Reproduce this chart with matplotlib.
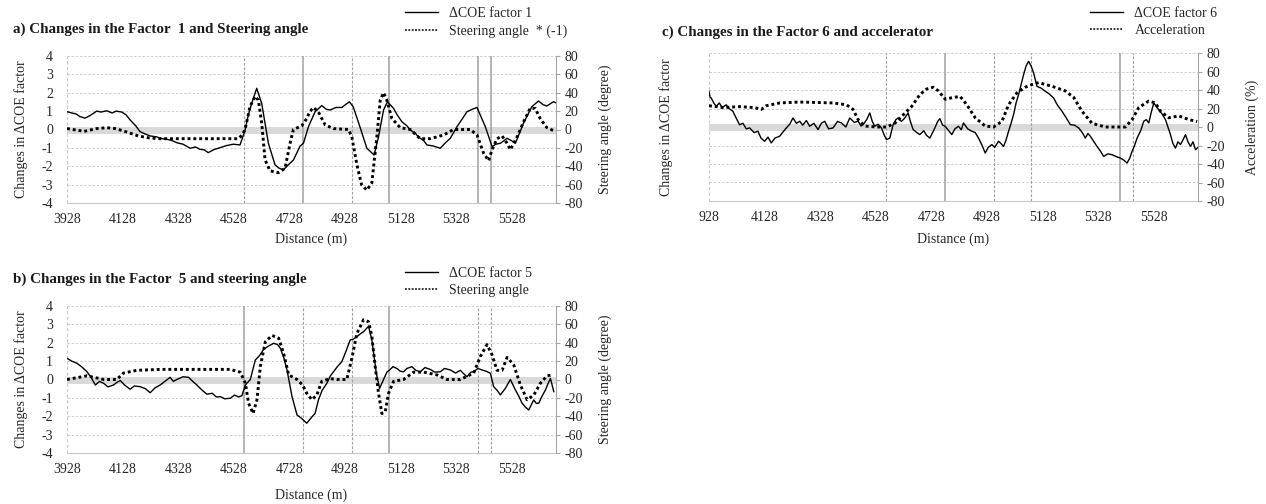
import matplotlib
matplotlib.use("Agg")
import matplotlib.pyplot as plt
import numpy as np

plt.rcParams['font.family'] = ['Liberation Serif', 'DejaVu Serif']
plt.rcParams['axes.unicode_minus'] = False

# ---- data: [distance (m), value] ----
# a) factor 1 (left axis) and steering angle * (-1) (right axis, degree)
a_factor = [[3928, 0.97], [3945, 0.9], [3960, 0.85], [3975, 0.7], [3993, 0.62], [4010, 0.75],
            [4035, 1.0], [4050, 0.95], [4071, 1.02], [4090, 0.9], [4105, 1.0], [4125, 0.95],
            [4140, 0.8], [4155, 0.52], [4175, 0.2], [4191, -0.12], [4210, -0.25], [4227, -0.35],
            [4250, -0.4], [4270, -0.5], [4287, -0.53], [4305, -0.6], [4323, -0.72], [4345, -0.8],
            [4371, -1.02], [4390, -0.95], [4406, -1.08], [4420, -1.1], [4436, -1.26], [4455, -1.1],
            [4478, -0.99], [4500, -0.88], [4526, -0.8], [4550, -0.84], [4568, -0.05], [4580, 0.8],
            [4592, 1.42], [4610, 2.24], [4628, 1.42], [4652, -0.75], [4676, -1.93], [4690, -2.1],
            [4706, -2.2], [4725, -1.9], [4742, -1.66], [4766, -0.9], [4778, -0.75], [4796, 0.15],
            [4820, 0.97], [4844, 1.3], [4860, 1.1], [4874, 1.06], [4895, 1.2], [4916, 1.2],
            [4943, 1.51], [4957, 1.24], [4981, 0.15], [5006, -1.02], [5032, -1.39], [5048, -0.39],
            [5066, 1.06], [5080, 1.51], [5102, 1.15], [5115, 0.8], [5132, 0.42], [5150, 0.2],
            [5162, -0.03], [5180, -0.2], [5192, -0.42], [5210, -0.6], [5222, -0.84], [5245, -0.9],
            [5270, -1.02], [5290, -0.7], [5306, -0.48], [5330, 0.15], [5350, 0.6], [5366, 0.97],
            [5385, 1.1], [5402, 1.2], [5432, 0.15], [5456, -0.93], [5470, -0.8], [5486, -0.75],
            [5510, -0.48], [5525, -0.6], [5540, -0.75], [5569, 0.34], [5599, 1.24], [5623, 1.55],
            [5640, 1.35], [5653, 1.28], [5677, 1.51], [5686, 1.45]]
a_steer = [[3928, 1], [3990, -2], [4035, 1], [4071, 2], [4100, 1], [4125, -1], [4155, -4],
           [4184, -7], [4220, -9], [4256, -10], [4387, -10], [4543, -10], [4558, -6], [4568, 0],
           [4586, 25], [4604, 36], [4616, 32], [4628, 7], [4640, -33], [4658, -45], [4688, -47],
           [4712, -42], [4730, -15], [4742, 0], [4772, 4], [4790, 12], [4800, 19], [4814, 24],
           [4832, 19], [4856, 5], [4886, 1], [4940, 0], [4952, -8], [4970, -38], [4987, -60],
           [5006, -66], [5024, -58], [5042, -8], [5054, 32], [5066, 40], [5078, 32], [5096, 12],
           [5126, 2], [5162, 0], [5198, -10], [5234, -10], [5282, -6], [5318, 0], [5378, 0],
           [5402, -6], [5426, -26], [5444, -34], [5456, -22], [5474, -10], [5492, -7], [5510, -15],
           [5522, -22], [5546, -8], [5569, 8], [5593, 23], [5611, 23], [5629, 12], [5653, 2],
           [5683, -2]]

# b) factor 5 and steering angle
b_factor = [[3928, 1.15], [3945, 1.0], [3964, 0.88], [3980, 0.7], [4000, 0.42], [4015, 0.1],
            [4030, -0.3], [4045, -0.1], [4060, -0.21], [4075, -0.4], [4095, -0.3], [4108, -0.15],
            [4120, -0.06], [4135, -0.3], [4155, -0.53], [4170, -0.35], [4191, -0.39], [4210, -0.5],
            [4227, -0.72], [4245, -0.45], [4263, -0.3], [4280, -0.1], [4299, 0.12], [4310, -0.1],
            [4323, 0.0], [4345, 0.15], [4365, 0.12], [4380, -0.1], [4395, -0.3], [4415, -0.6],
            [4431, -0.8], [4450, -0.75], [4465, -0.95], [4479, -0.93], [4495, -1.05], [4515, -1.02],
            [4530, -0.85], [4545, -0.95], [4557, -0.88], [4569, -0.3], [4587, 0.0], [4605, 1.06],
            [4620, 1.3], [4635, 1.64], [4650, 1.8], [4671, 1.97], [4685, 1.9], [4695, 1.7],
            [4707, 1.2], [4719, 0.52], [4737, -0.93], [4755, -1.93], [4770, -2.1], [4790, -2.38],
            [4805, -2.1], [4820, -1.84], [4832, -1.11], [4845, -0.6], [4862, -0.21], [4875, 0.2],
            [4886, 0.42], [4900, 0.7], [4916, 0.97], [4930, 1.5], [4946, 2.15], [4958, 2.2],
            [4970, 2.33], [4984, 2.5], [4994, 2.6], [5012, 2.9], [5024, 2.15], [5040, 0.34],
            [5052, -0.48], [5066, 0.0], [5078, 0.4], [5088, 0.52], [5100, 0.7], [5114, 0.6],
            [5126, 0.45], [5138, 0.42], [5150, 0.6], [5168, 0.7], [5182, 0.5], [5198, 0.42],
            [5215, 0.65], [5234, 0.55], [5250, 0.4], [5270, 0.42], [5285, 0.6], [5306, 0.52],
            [5325, 0.35], [5342, 0.5], [5355, 0.3], [5366, 0.15], [5380, 0.4], [5390, 0.42],
            [5405, 0.6], [5420, 0.52], [5435, 0.45], [5450, 0.34], [5462, -0.39], [5475, -0.6],
            [5486, -0.84], [5504, -0.48], [5522, 0.0], [5540, -0.57], [5552, -0.9], [5564, -1.29],
            [5576, -1.5], [5588, -1.66], [5606, -1.11], [5615, -1.3], [5624, -1.29], [5636, -0.9],
            [5648, -0.57], [5658, -0.2], [5666, 0.06], [5678, -0.66]]
b_steer = [[3928, 0], [4000, 4], [4060, 0], [4107, 0], [4131, 7], [4179, 10], [4263, 11],
           [4383, 11], [4515, 11], [4551, 8], [4569, -4], [4581, -26], [4597, -37], [4611, -22],
           [4623, 14], [4641, 41], [4665, 48], [4689, 45], [4707, 28], [4725, 5], [4755, 0],
           [4775, -6], [4790, -15], [4808, -22], [4826, -17], [4844, -2], [4874, 1], [4898, 0],
           [4934, 0], [4952, 23], [4970, 50], [4994, 65], [5012, 63], [5024, 47], [5036, 14],
           [5048, -15], [5060, -37], [5072, -35], [5084, -15], [5102, -2], [5138, 0], [5174, 8],
           [5210, 8], [5258, 5], [5294, 0], [5342, 0], [5390, 7], [5414, 25], [5438, 38],
           [5456, 27], [5474, 10], [5492, 10], [5510, 24], [5534, 16], [5558, -6], [5582, -22],
           [5606, -17], [5630, -4], [5654, 4], [5672, 5]]

# c) factor 6 and acceleration (%)
c_factor = [[3928, 1.93], [3932, 1.6], [3936, 1.57], [3945, 1.3], [3954, 1.12], [3965, 1.3],
            [3975, 1.05], [3990, 1.2], [4000, 1.0], [4014, 0.85], [4025, 0.5], [4038, 0.12],
            [4050, 0.2], [4062, -0.1], [4074, -0.05], [4090, -0.3], [4104, -0.23], [4115, -0.6],
            [4128, -0.77], [4140, -0.55], [4152, -0.86], [4165, -0.6], [4182, -0.5], [4195, -0.25],
            [4206, -0.05], [4218, 0.15], [4230, 0.49], [4242, 0.2], [4254, 0.31], [4265, 0.1],
            [4278, 0.35], [4290, 0.04], [4305, 0.2], [4320, -0.14], [4332, 0.2], [4344, 0.31],
            [4358, -0.1], [4374, -0.05], [4390, 0.3], [4404, 0.22], [4420, 0.0], [4434, 0.49],
            [4450, 0.25], [4464, 0.31], [4475, 0.05], [4482, 0.13], [4495, 0.4], [4506, 0.76],
            [4515, 0.3], [4524, 0.04], [4536, 0.15], [4548, -0.05], [4557, -0.4], [4566, -0.68],
            [4578, -0.6], [4590, 0.13], [4600, 0.4], [4608, 0.49], [4620, 0.3], [4632, 0.49],
            [4644, 0.76], [4652, 0.3], [4662, -0.14], [4675, -0.3], [4686, -0.41], [4700, -0.2],
            [4710, -0.45], [4722, -0.6], [4732, -0.3], [4740, -0.05], [4750, 0.3], [4758, 0.45],
            [4768, 0.1], [4777, 0.04], [4790, -0.2], [4801, -0.41], [4812, -0.1], [4825, 0.04],
            [4835, -0.15], [4843, 0.22], [4858, -0.1], [4873, -0.23], [4885, -0.3], [4897, -0.6],
            [4910, -1.0], [4921, -1.41], [4932, -1.1], [4945, -0.95], [4955, -1.1], [4969, -0.77],
            [4978, -0.9], [4987, -1.05], [4996, -0.7], [5005, -0.23], [5014, 0.2], [5023, 0.67],
            [5032, 1.3], [5041, 1.75], [5050, 2.3], [5059, 2.83], [5068, 3.3], [5077, 3.55],
            [5086, 3.3], [5095, 2.92], [5107, 2.2], [5122, 2.1], [5137, 1.93], [5150, 1.8],
            [5167, 1.57], [5180, 1.2], [5197, 0.85], [5212, 0.5], [5227, 0.13], [5242, 0.1],
            [5257, -0.05], [5270, -0.3], [5281, -0.6], [5290, -0.35], [5299, -0.5], [5312, -0.8],
            [5323, -1.05], [5335, -1.3], [5347, -1.59], [5362, -1.45], [5377, -1.5], [5392, -1.6],
            [5407, -1.68], [5420, -1.8], [5431, -1.95], [5440, -1.7], [5449, -1.32], [5458, -1.0],
            [5467, -0.6], [5480, -0.2], [5491, 0.31], [5500, 0.4], [5509, 0.22], [5518, 0.8],
            [5527, 1.3], [5536, 1.1], [5545, 0.94], [5557, 0.7], [5569, 0.4], [5578, 0.0],
            [5587, -0.41], [5596, -0.9], [5605, -1.14], [5614, -0.8], [5623, -0.95], [5632, -0.7],
            [5641, -0.41], [5650, -0.8], [5659, -1.05], [5668, -0.8], [5677, -1.23], [5686, -1.1]]
c_accel = [[3928, 23], [3978, 21], [4038, 22], [4092, 21], [4116, 19], [4134, 23], [4182, 26],
           [4254, 27], [4374, 26], [4422, 24], [4446, 19], [4464, 8], [4488, 1], [4530, 0],
           [4566, 0], [4596, 4], [4626, 13], [4656, 22], [4686, 35], [4710, 41], [4734, 43],
           [4753, 39], [4777, 30], [4807, 32], [4831, 33], [4855, 24], [4885, 10], [4921, 1],
           [4951, 0], [4981, 6], [5005, 24], [5035, 37], [5065, 43], [5090, 46], [5113, 48],
           [5161, 44], [5209, 39], [5239, 32], [5269, 17], [5305, 4], [5353, 0], [5425, 0],
           [5449, 8], [5473, 21], [5509, 28], [5533, 26], [5551, 17], [5581, 10], [5617, 12],
           [5653, 8], [5683, 6]]

# marker lines (distance, style)
a_marks = [(4565, 'dash'), (4777, 'solid'), (4952, 'dash'), (5086, 'solid'), (5405, 'solid'), (5453, 'solid')]
b_marks = [(4565, 'solid'), (4777, 'dash'), (4952, 'dash'), (5086, 'solid'), (5405, 'dash'), (5453, 'dash')]
c_marks = [(4565, 'dash'), (4777, 'solid'), (4952, 'dash'), (5086, 'dash'), (5405, 'solid'), (5453, 'dash')]

x_ticks = [3928, 4128, 4328, 4528, 4728, 4928, 5128, 5328, 5528]
x_min, x_max = 3928, 5686

W, H = 1266, 504
fig = plt.figure(figsize=(W / 100, H / 100), dpi=100)

txt = '#262626'
grid_c = '#c8c8c8'


def panel(rect, factor, sec, marks, fac_label, sec_label, sec_ylabel, left_labels, first_tick,
          right_lab_x):
    ax = fig.add_axes(rect)
    f = np.array(factor, dtype=float)
    s = np.array(sec, dtype=float)
    ax.set_xlim(x_min, x_max)
    ax.set_ylim(-4, 4)
    ax.set_yticks(np.arange(-4, 5, 1))
    for yv in range(-3, 5):
        ax.axhline(yv, color=grid_c, lw=0.6, ls=(0, (3, 2)), zorder=0.5)
    ax.axvline(x_min, color=grid_c, lw=0.8, ls=(0, (3, 2)), zorder=0.5)
    ax.axhline(0, color='#d9d9d9', lw=5, zorder=1)
    for xv, st in marks:
        if st == 'solid':
            ax.axvline(xv, color='#a0a0a0', lw=1.1, zorder=1.2)
        else:
            ax.axvline(xv, color='#a0a0a0', lw=0.8, ls=(0, (2.5, 1.5)), zorder=1.2)
    h1, = ax.plot(f[:, 0], f[:, 1], color='black', lw=1.0, zorder=3, label=fac_label)

    for sp in ['left', 'top', 'right']:
        ax.spines[sp].set_visible(False)
    ax.spines['bottom'].set_color('#c8c8c8')
    ax.set_xticks(x_ticks)
    labels = [str(t) for t in x_ticks]
    labels[0] = first_tick
    ax.set_xticklabels(labels)
    ax.tick_params(axis='x', length=0, pad=7, labelsize=10, labelcolor=txt)
    ax.tick_params(axis='y', length=0, pad=10, labelsize=10, labelcolor=txt)
    if not left_labels:
        ax.set_yticklabels([])
    ax.set_ylabel('Changes in ΔCOE factor', fontsize=10, color=txt)
    ax.yaxis.set_label_coords(-0.08, 0.5)
    ax.set_xlabel('Distance (m)', fontsize=10, color=txt)

    tw = ax.twinx()
    tw.set_ylim(-80, 80)
    tw.set_yticks(np.arange(-80, 81, 20))
    h2, = tw.plot(s[:, 0], s[:, 1], color='black', lw=2.1, ls=(0, (1.0, 1.0)), zorder=3,
                  label=sec_label)
    for sp in ['left', 'top', 'bottom']:
        tw.spines[sp].set_visible(False)
    tw.spines['right'].set_color('#a6a6a6')
    tw.tick_params(axis='y', length=3, width=0.8, color='#a6a6a6', pad=3, labelsize=10,
                   labelcolor=txt)
    tw.set_ylabel(sec_ylabel, fontsize=10, color=txt)
    tw.yaxis.set_label_coords(right_lab_x, 0.5)
    return ax, tw, h1, h2


def legend(ax, handles, x, y):
    lg = ax.legend(handles=handles, loc='upper left', bbox_to_anchor=(x / W, 1 - y / H),
                   bbox_transform=fig.transFigure, frameon=False, fontsize=10,
                   handlelength=2.4, handletextpad=0.8, labelspacing=0.3,
                   borderpad=0, borderaxespad=0)
    for t in lg.get_texts():
        t.set_color(txt)
    lines = lg.get_lines()
    lines[1].set_linewidth(1.1)
    lines[1].set_linestyle((0, (1.2, 1.0)))


pw = 489 / W
ph = 147 / H

ax_a, tw_a, ha1, ha2 = panel([67 / W, 1 - 203 / H, pw, ph], a_factor, a_steer, a_marks,
                             'ΔCOE factor 1', 'Steering angle  * (-1)', 'Steering angle (degree)',
                             True, '3928', 1.086)
ax_a.xaxis.set_label_coords(0.5, -0.20)
legend(tw_a, [ha1, ha2], 405, 7)

ax_b, tw_b, hb1, hb2 = panel([67 / W, 1 - 453 / H, pw, ph], b_factor, b_steer, b_marks,
                             'ΔCOE factor 5', 'Steering angle', 'Steering angle (degree)',
                             True, '3928', 1.086)
ax_b.xaxis.set_label_coords(0.5, -0.24)
legend(tw_b, [hb1, hb2], 405, 267)

ax_c, tw_c, hc1, hc2 = panel([709 / W, 1 - 201 / H, pw, 148 / H], c_factor, c_accel, c_marks,
                             'ΔCOE factor 6', 'Acceleration', 'Acceleration (%)',
                             False, '928', 1.098)
ax_c.yaxis.set_label_coords(-0.074, 0.5)
ax_c.xaxis.set_label_coords(0.5, -0.21)
legend(tw_c, [hc1, hc2], 1090, 7)

fig.text(13 / W, 1 - 29 / H, 'a) Changes in the Factor  1 and Steering angle', fontsize=10.8,
         weight='bold', va='center', ha='left', color='#1a1a1a')
fig.text(13 / W, 1 - 279 / H, 'b) Changes in the Factor  5 and steering angle', fontsize=10.8,
         weight='bold', va='center', ha='left', color='#1a1a1a')
fig.text(662 / W, 1 - 32 / H, 'c) Changes in the Factor 6 and accelerator', fontsize=10.8,
         weight='bold', va='center', ha='left', color='#1a1a1a')

fig.savefig('out.png', dpi=100)
